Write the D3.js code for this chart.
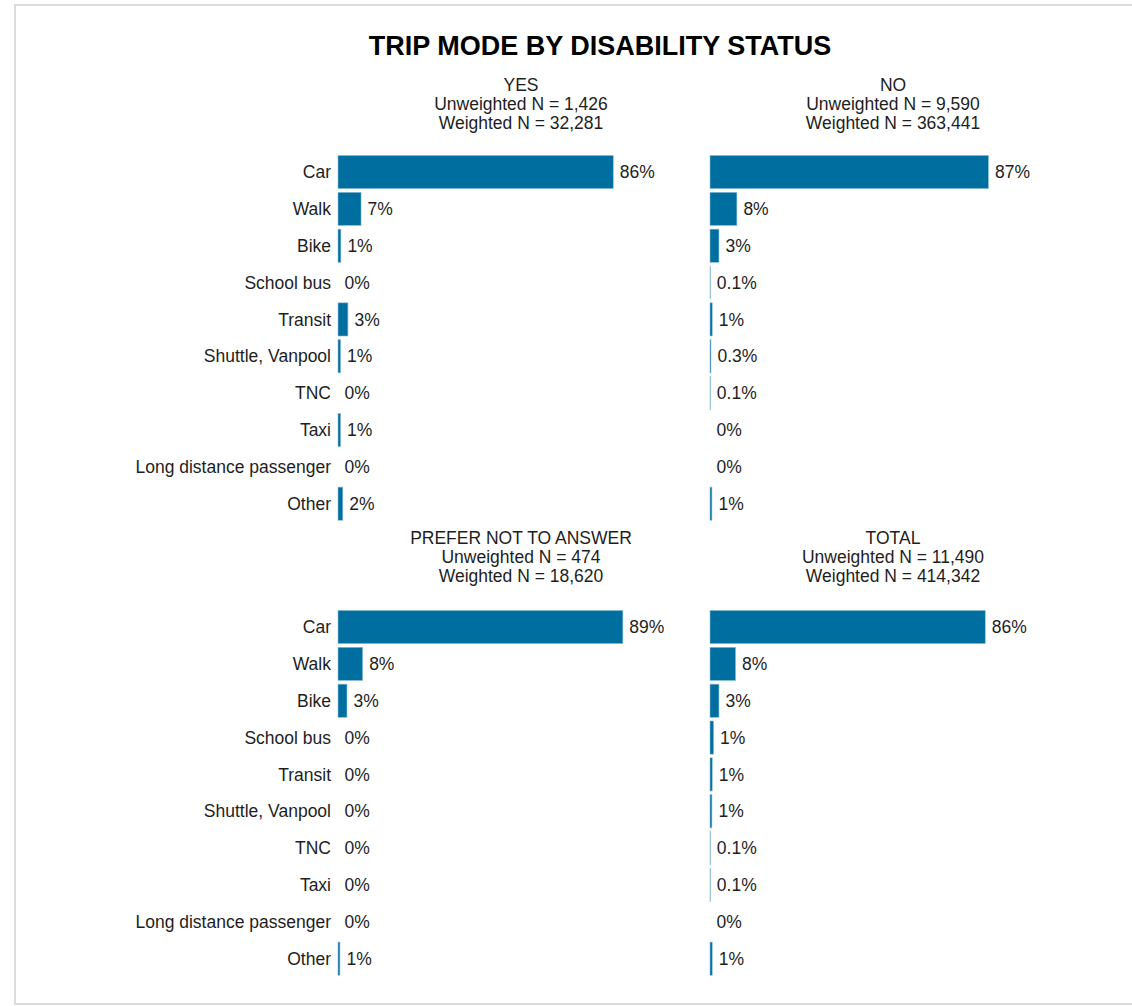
<!DOCTYPE html>
<html>
<head>
<meta charset="utf-8">
<script src="https://cdn.jsdelivr.net/npm/d3@7"></script>
<style>
  html, body { margin: 0; padding: 0; background: #fff; }
  svg { display: block; font-family: "Liberation Sans", Arial, sans-serif; }
</style>
</head>
<body>
<svg id="chart" width="1132" height="1006"></svg>
<script>
const chartTitle = "TRIP MODE BY DISABILITY STATUS";
const categories = ["Car", "Walk", "Bike", "School bus", "Transit", "Shuttle, Vanpool", "TNC", "Taxi", "Long distance passenger", "Other"];
const panelNames = ["YES", "NO", "PREFER NOT TO ANSWER", "TOTAL"];
const unweightedN = ["1,426", "9,590", "474", "11,490"];
const weightedN = ["32,281", "363,441", "18,620", "414,342"];
const yesValues   = [86, 7.2, 0.9, 0, 3.1, 0.8, 0, 0.8, 0, 1.5];
const noValues    = [87, 8.4, 2.8, 0.1, 0.7, 0.3, 0.1, 0, 0, 0.6];
const pntaValues  = [89, 7.7, 2.8, 0, 0, 0, 0, 0, 0, 0.6];
const totalValues = [86, 8.0, 2.8, 1.1, 0.7, 0.6, 0.1, 0.1, 0, 0.7];
const panelValues = [yesValues, noValues, pntaValues, totalValues];

const svg = d3.select("#chart");
const barColor = "#006fa0";
const textColor = "#1e1e1e";
const fs = 17.5;

// outer frame
svg.append("rect").attr("x", 15).attr("y", 5).attr("width", 1130).attr("height", 999)
  .attr("fill", "none").attr("stroke", "#dcdcdc").attr("stroke-width", 2);

svg.append("text").attr("x", 600).attr("y", 55).attr("text-anchor", "middle")
  .attr("font-size", 27).attr("font-weight", "bold").attr("fill", "#000").text(chartTitle);

const panelX = [338, 710, 338, 710];
const panelTop = [153.6, 153.6, 608.6, 608.6];
const headerBase = [90.5, 90.5, 543.5, 543.5];
const panelWidth = 370;

const x = d3.scaleLinear().domain([0, 115.6]).range([0, panelWidth]);
const y = d3.scaleBand().domain(categories).range([0, 368.5]).paddingInner(0.1).paddingOuter(0.05);

function fmt(v) {
  if (v === 0) return "0%";
  if (v < 0.5) return v.toFixed(1) + "%";
  return Math.round(v) + "%";
}

panelNames.forEach((name, i) => {
  const cx = panelX[i] + panelWidth / 2 - 2;
  const hdr = svg.append("g").attr("font-size", fs).attr("fill", textColor).attr("text-anchor", "middle");
  [name, "Unweighted N = " + unweightedN[i], "Weighted N = " + weightedN[i]].forEach((t, k) => {
    hdr.append("text").attr("x", cx).attr("y", headerBase[i] + k * 19.3).text(t);
  });

  const g = svg.append("g").attr("transform", `translate(${panelX[i]},${panelTop[i]})`);
  const data = categories.map((c, j) => ({ c, v: panelValues[i][j] }));

  g.selectAll("rect.bar").data(data).join("rect").attr("class", "bar")
    .attr("x", 0).attr("y", d => y(d.c))
    .attr("width", d => x(d.v)).attr("height", y.bandwidth())
    .attr("fill", barColor).attr("stroke", d => d.v > 0 ? "#8fbfd8" : "none").attr("stroke-width", 0.6);

  g.selectAll("text.val").data(data).join("text").attr("class", "val")
    .attr("x", d => x(d.v) + 6.5).attr("y", d => y(d.c) + y.bandwidth() / 2)
    .attr("dy", "0.35em").attr("font-size", fs).attr("fill", textColor)
    .text(d => fmt(d.v));

  if (i % 2 === 0) {
    g.selectAll("text.cat").data(categories).join("text").attr("class", "cat")
      .attr("x", -7).attr("y", d => y(d) + y.bandwidth() / 2)
      .attr("dy", "0.35em").attr("text-anchor", "end").attr("font-size", fs).attr("fill", textColor)
      .text(d => d);
  }
});
</script>
</body>
</html>
